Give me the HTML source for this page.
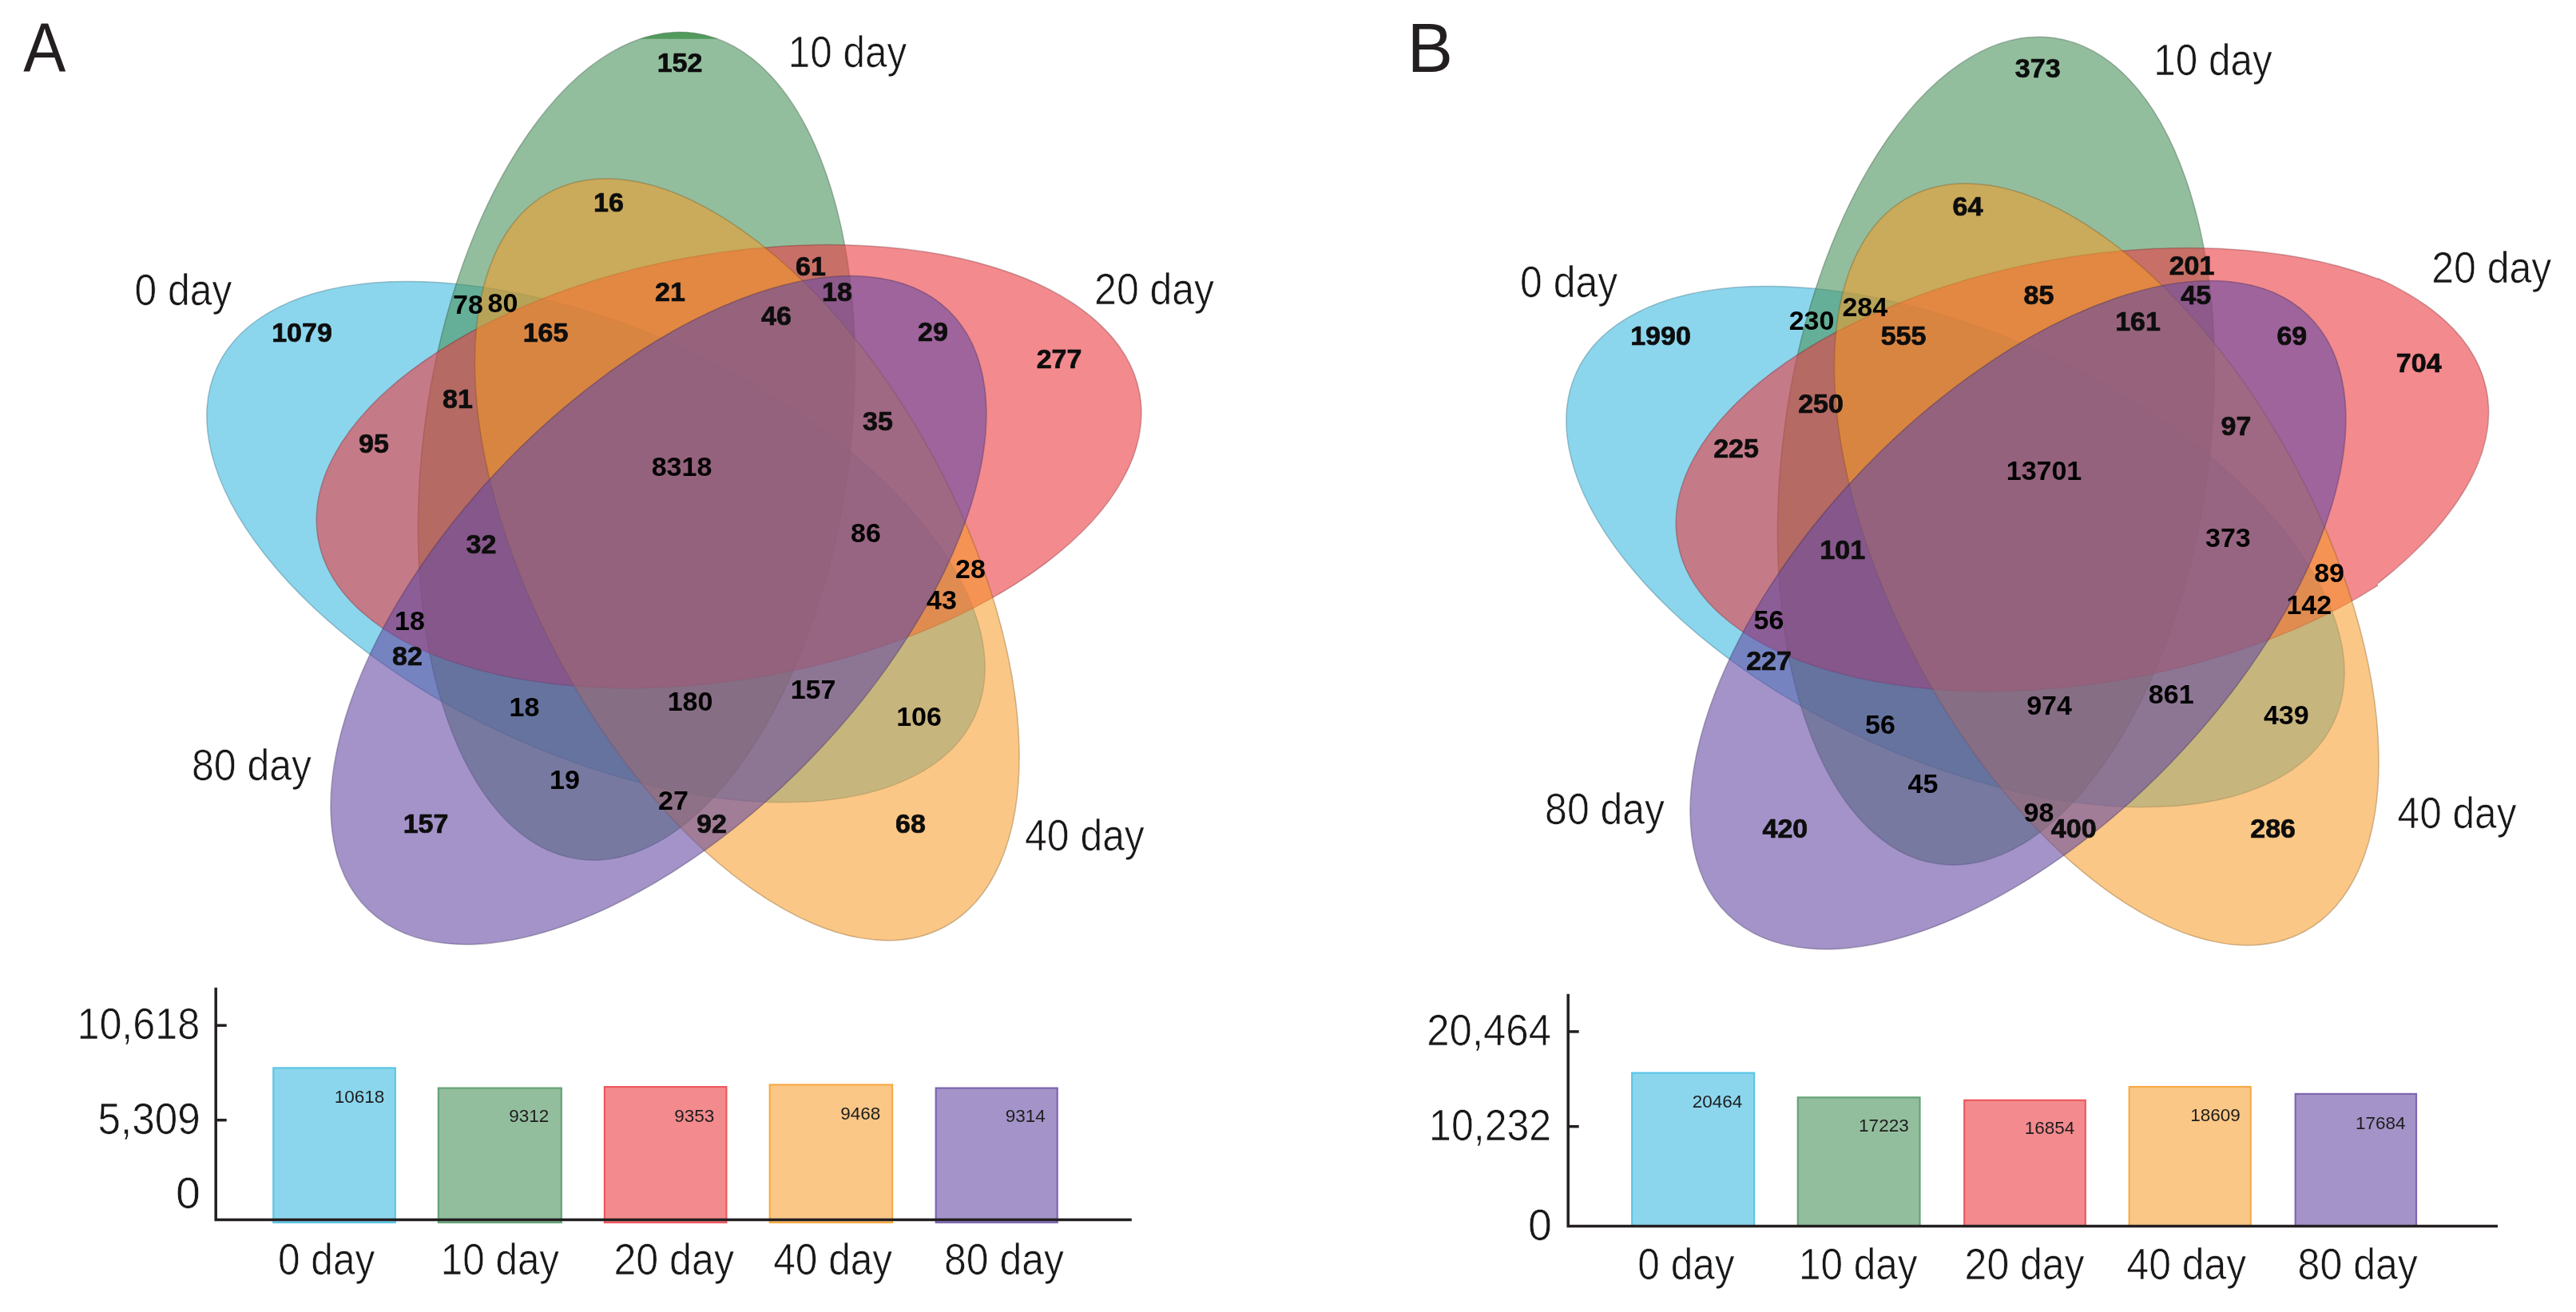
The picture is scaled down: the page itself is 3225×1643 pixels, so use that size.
<!DOCTYPE html>
<html><head><meta charset="utf-8"><title>Venn</title>
<style>
html,body{margin:0;padding:0;background:#fff;}
body{width:3225px;height:1643px;overflow:hidden;}
svg{display:block;}
text{font-family:"Liberation Sans",sans-serif;fill:#231f20;}
.n{font-weight:bold;font-size:34px;text-anchor:middle;fill:#0a0a0a;stroke:#0a0a0a;stroke-width:0.7px;stroke-linejoin:round;}
.m{font-weight:bold;font-size:34px;text-anchor:middle;fill:#050505;}
.l{font-size:56px;fill:#1a1718;stroke:#fff;stroke-width:0.7px;}
.bl{font-size:22.5px;text-anchor:middle;fill:#1e1e1e;}
.P{font-size:87px;}
</style></head><body>
<svg width="3225" height="1643" viewBox="0 0 3225 1643">
<defs><filter id="bl2" x="-5%" y="-20%" width="110%" height="140%"><feGaussianBlur stdDeviation="0.6"/></filter><clipPath id="cT"><rect x="700" y="0" width="300" height="48.8"/></clipPath><clipPath id="cL"><rect x="0" y="0" width="2977" height="1643"/></clipPath><clipPath id="cR"><rect x="2977" y="0" width="300" height="1643"/></clipPath><filter id="bl" x="-5%" y="-20%" width="110%" height="140%"><feGaussianBlur stdDeviation="0.75"/></filter></defs>
<rect width="3225" height="1643" fill="#fff"/>
<text x="29.2" y="89.6" class="P" textLength="53.1" lengthAdjust="spacingAndGlyphs">A</text>
<text x="1761.8" y="89.7" class="P" textLength="57.3" lengthAdjust="spacingAndGlyphs">B</text>
<g><ellipse rx="522.24" ry="266.32" transform="translate(746.00,678.61) rotate(24.78)" fill="rgb(63,187,225)" fill-opacity="0.6" stroke="rgb(31,93,112)" stroke-opacity="0.35" stroke-width="1.5"/>
<ellipse rx="522.24" ry="266.32" transform="translate(796.94,558.68) rotate(-81.99)" fill="rgb(75,147,93)" fill-opacity="0.6" stroke="rgb(37,73,46)" stroke-opacity="0.35" stroke-width="1.5"/>
<ellipse rx="522.24" ry="266.32" transform="translate(912.53,584.12) rotate(-10.01)" fill="rgb(235,60,67)" fill-opacity="0.6" stroke="rgb(117,30,33)" stroke-opacity="0.35" stroke-width="1.5"/>
<ellipse rx="522.24" ry="266.32" transform="translate(935.26,700.74) rotate(61.75)" fill="rgb(246,155,39)" fill-opacity="0.56" stroke="rgb(123,77,19)" stroke-opacity="0.35" stroke-width="1.5"/>
<ellipse rx="522.24" ry="266.32" transform="translate(824.43,764.11) rotate(-45.96)" fill="rgb(102,75,163)" fill-opacity="0.6" stroke="rgb(51,37,81)" stroke-opacity="0.35" stroke-width="1.5"/>
</g>
<g clip-path="url(#cT)"><ellipse rx="522.24" ry="266.32" transform="translate(796.94,558.68) rotate(-81.99)" fill="rgb(40,130,50)" fill-opacity="0.6"/></g>
<g><ellipse rx="522.24" ry="266.32" transform="translate(2448.00,684.61) rotate(24.78)" fill="rgb(63,187,225)" fill-opacity="0.6" stroke="rgb(31,93,112)" stroke-opacity="0.35" stroke-width="1.5"/>
<ellipse rx="522.24" ry="266.32" transform="translate(2498.94,564.68) rotate(-81.99)" fill="rgb(75,147,93)" fill-opacity="0.6" stroke="rgb(37,73,46)" stroke-opacity="0.35" stroke-width="1.5"/>
<g clip-path="url(#cL)"><ellipse rx="522.24" ry="266.32" transform="translate(2614.53,588.12) rotate(-10.01)" fill="rgb(235,60,67)" fill-opacity="0.6" stroke="rgb(117,30,33)" stroke-opacity="0.35" stroke-width="1.5"/>
</g><g clip-path="url(#cR)"><ellipse rx="732.29" ry="317.92" transform="translate(2396.09,638.03) rotate(-11.9)" fill="rgb(235,60,67)" fill-opacity="0.6" stroke="rgb(117,30,33)" stroke-opacity="0.35" stroke-width="1.5"/>
</g><ellipse rx="522.24" ry="266.32" transform="translate(2637.26,706.74) rotate(61.75)" fill="rgb(246,155,39)" fill-opacity="0.56" stroke="rgb(123,77,19)" stroke-opacity="0.35" stroke-width="1.5"/>
<ellipse rx="522.24" ry="266.32" transform="translate(2526.43,770.11) rotate(-45.96)" fill="rgb(102,75,163)" fill-opacity="0.6" stroke="rgb(51,37,81)" stroke-opacity="0.35" stroke-width="1.5"/>
</g>
<g filter="url(#bl)"><text x="851" y="90.0" class="n">152</text>
<text x="762" y="265.0" class="n">16</text>
<text x="1015" y="344.5" class="n">61</text>
<text x="1048" y="377.0" class="n">18</text>
<text x="586" y="393.0" class="m">78</text>
<text x="629.5" y="391.0" class="m">80</text>
<text x="839" y="377.0" class="n">21</text>
<text x="972" y="407.0" class="n">46</text>
<text x="1168" y="427.0" class="n">29</text>
<text x="378" y="428.0" class="n">1079</text>
<text x="683" y="428.0" class="n">165</text>
<text x="1326" y="460.5" class="n">277</text>
<text x="573" y="511.0" class="n">81</text>
<text x="1099" y="539.0" class="n">35</text>
<text x="468" y="567.0" class="n">95</text>
<text x="853.5" y="596.0" class="m">8318</text>
<text x="1084" y="679.0" class="m">86</text>
<text x="602.5" y="692.5" class="n">32</text>
<text x="1215" y="723.5" class="m">28</text>
<text x="1179" y="763.0" class="m">43</text>
<text x="513" y="789.0" class="m">18</text>
<text x="510" y="833.0" class="n">82</text>
<text x="1018" y="875.0" class="m">157</text>
<text x="864" y="889.5" class="m">180</text>
<text x="656.5" y="897.0" class="m">18</text>
<text x="1150.5" y="908.5" class="m">106</text>
<text x="707" y="987.5" class="m">19</text>
<text x="843" y="1013.5" class="m">27</text>
<text x="891" y="1043.4" class="n">92</text>
<text x="533" y="1043.4" class="n">157</text>
<text x="1140" y="1043.4" class="n">68</text>
</g>
<g filter="url(#bl)"><text x="2551.2" y="97.0" class="n">373</text>
<text x="2463.5" y="270.3" class="n">64</text>
<text x="2744" y="343.8" class="n">201</text>
<text x="2749.2" y="381.1" class="n">45</text>
<text x="2552.4" y="381.0" class="n">85</text>
<text x="2334.8" y="396.2" class="m">284</text>
<text x="2268" y="413.0" class="m">230</text>
<text x="2676.5" y="414.2" class="n">161</text>
<text x="2383" y="432.3" class="n">555</text>
<text x="2869.3" y="432.0" class="n">69</text>
<text x="2079" y="431.8" class="n">1990</text>
<text x="3028.2" y="466.2" class="n">704</text>
<text x="2279.5" y="517.0" class="n">250</text>
<text x="2799.5" y="544.6" class="n">97</text>
<text x="2173.5" y="572.8" class="n">225</text>
<text x="2559" y="600.9" class="m">13701</text>
<text x="2789.4" y="685.0" class="m">373</text>
<text x="2306.7" y="699.7" class="n">101</text>
<text x="2916.1" y="729.4" class="m">89</text>
<text x="2890.8" y="768.7" class="m">142</text>
<text x="2214.5" y="788.0" class="m">56</text>
<text x="2214.5" y="839.1" class="n">227</text>
<text x="2718.2" y="880.8" class="m">861</text>
<text x="2565.5" y="894.7" class="m">974</text>
<text x="2862.3" y="906.9" class="m">439</text>
<text x="2354" y="919.4" class="m">56</text>
<text x="2407.4" y="993.2" class="m">45</text>
<text x="2552.4" y="1028.8" class="m">98</text>
<text x="2596.2" y="1049.2" class="n">400</text>
<text x="2234.9" y="1049.4" class="n">420</text>
<text x="2845.6" y="1048.9" class="n">286</text>
</g>
<g><text x="986.8" y="84.4" class="l" textLength="148.5" lengthAdjust="spacingAndGlyphs">10 day</text>
<text x="1370.1" y="381.3" class="l" textLength="150.0" lengthAdjust="spacingAndGlyphs">20 day</text>
<text x="168.6" y="381.5" class="l" textLength="121.7" lengthAdjust="spacingAndGlyphs">0 day</text>
<text x="239.9" y="976.5" class="l" textLength="150.2" lengthAdjust="spacingAndGlyphs">80 day</text>
<text x="1283.1" y="1064.8" class="l" textLength="149.7" lengthAdjust="spacingAndGlyphs">40 day</text>
<text x="2696.3" y="94.4" class="l" textLength="148.5" lengthAdjust="spacingAndGlyphs">10 day</text>
<text x="3044.2" y="353.8" class="l" textLength="150.2" lengthAdjust="spacingAndGlyphs">20 day</text>
<text x="1903.0" y="372.4" class="l" textLength="122.2" lengthAdjust="spacingAndGlyphs">0 day</text>
<text x="1934.1" y="1032.3" class="l" textLength="150.0" lengthAdjust="spacingAndGlyphs">80 day</text>
<text x="3001.6" y="1036.5" class="l" textLength="148.9" lengthAdjust="spacingAndGlyphs">40 day</text>
<text x="348.0" y="1595.9" class="l" textLength="121.3" lengthAdjust="spacingAndGlyphs">0 day</text>
<text x="551.7" y="1595.9" class="l" textLength="148.4" lengthAdjust="spacingAndGlyphs">10 day</text>
<text x="768.4" y="1595.9" class="l" textLength="150.6" lengthAdjust="spacingAndGlyphs">20 day</text>
<text x="968.2" y="1595.9" class="l" textLength="148.9" lengthAdjust="spacingAndGlyphs">40 day</text>
<text x="1182.1" y="1595.9" class="l" textLength="149.8" lengthAdjust="spacingAndGlyphs">80 day</text>
<text x="2050.3" y="1601.6" class="l" textLength="121.3" lengthAdjust="spacingAndGlyphs">0 day</text>
<text x="2252.0" y="1601.6" class="l" textLength="148.6" lengthAdjust="spacingAndGlyphs">10 day</text>
<text x="2459.6" y="1601.6" class="l" textLength="150.0" lengthAdjust="spacingAndGlyphs">20 day</text>
<text x="2662.5" y="1601.6" class="l" textLength="149.6" lengthAdjust="spacingAndGlyphs">40 day</text>
<text x="2876.6" y="1601.6" class="l" textLength="150.3" lengthAdjust="spacingAndGlyphs">80 day</text>
<text x="96.4" y="1300.7" class="l" textLength="153.9" lengthAdjust="spacingAndGlyphs">10,618</text>
<text x="122.6" y="1419.8" class="l" textLength="128.2" lengthAdjust="spacingAndGlyphs">5,309</text>
<text x="220.0" y="1512.9" class="l" textLength="30.9" lengthAdjust="spacingAndGlyphs">0</text>
<text x="1786.3" y="1308.7" class="l" textLength="155.7" lengthAdjust="spacingAndGlyphs">20,464</text>
<text x="1789.1" y="1427.5" class="l" textLength="153.1" lengthAdjust="spacingAndGlyphs">10,232</text>
<text x="1913.0" y="1552.9" class="l" textLength="29.9" lengthAdjust="spacingAndGlyphs">0</text>
</g>
<g><rect x="342.3" y="1337.4" width="152.5" height="193.5" fill="rgb(140,214,237)" stroke="rgb(92,197,230)" stroke-width="2.2"/>
<rect x="548.9" y="1362.6" width="153.9" height="168.3" fill="rgb(147,190,158)" stroke="rgb(102,163,117)" stroke-width="2.2"/>
<rect x="756.9" y="1361.1" width="152.5" height="169.8" fill="rgb(243,138,142)" stroke="rgb(238,89,95)" stroke-width="2.2"/>
<rect x="963.7" y="1358.4" width="153.4" height="172.5" fill="rgb(250,199,134)" stroke="rgb(247,170,71)" stroke-width="2.2"/>
<rect x="1171.7" y="1362.6" width="152.0" height="168.3" fill="rgb(163,147,200)" stroke="rgb(125,102,177)" stroke-width="2.2"/>
<path d="M270.2 1236.8V1527.4H1416.8" fill="none" stroke="#231f20" stroke-width="3.5" stroke-linejoin="miter"/>
<path d="M270.2 1284.1h13.5" stroke="#231f20" stroke-width="3.5"/>
<path d="M270.2 1402.7h13.5" stroke="#231f20" stroke-width="3.5"/>
<g filter="url(#bl2)"><text x="450" y="1380.6" class="bl">10618</text>
<text x="662.3" y="1404.5" class="bl">9312</text>
<text x="869.3" y="1404.5" class="bl">9353</text>
<text x="1077.2" y="1401.6" class="bl">9468</text>
<text x="1283.7" y="1404.9" class="bl">9314</text>
</g></g>
<g><rect x="2043.2" y="1343.6" width="152.9" height="192.1" fill="rgb(140,214,237)" stroke="rgb(92,197,230)" stroke-width="2.2"/>
<rect x="2250.8" y="1374.3" width="152.7" height="161.4" fill="rgb(147,190,158)" stroke="rgb(102,163,117)" stroke-width="2.2"/>
<rect x="2459.2" y="1377.8" width="151.6" height="157.9" fill="rgb(243,138,142)" stroke="rgb(238,89,95)" stroke-width="2.2"/>
<rect x="2665.7" y="1361.0" width="152.0" height="174.7" fill="rgb(250,199,134)" stroke="rgb(247,170,71)" stroke-width="2.2"/>
<rect x="2873.7" y="1369.9" width="151.3" height="165.8" fill="rgb(163,147,200)" stroke="rgb(125,102,177)" stroke-width="2.2"/>
<path d="M1963.2 1244.7V1535.6H3127" fill="none" stroke="#231f20" stroke-width="3.5" stroke-linejoin="miter"/>
<path d="M1963.2 1291.9h13.5" stroke="#231f20" stroke-width="3.5"/>
<path d="M1963.2 1410.7h13.5" stroke="#231f20" stroke-width="3.5"/>
<g filter="url(#bl2)"><text x="2150.1" y="1386.6" class="bl">20464</text>
<text x="2358.4" y="1416.9" class="bl">17223</text>
<text x="2566.1" y="1420.4" class="bl">16854</text>
<text x="2773.5" y="1403.8" class="bl">18609</text>
<text x="2980.2" y="1413.8" class="bl">17684</text>
</g></g>
</svg>
</body></html>
